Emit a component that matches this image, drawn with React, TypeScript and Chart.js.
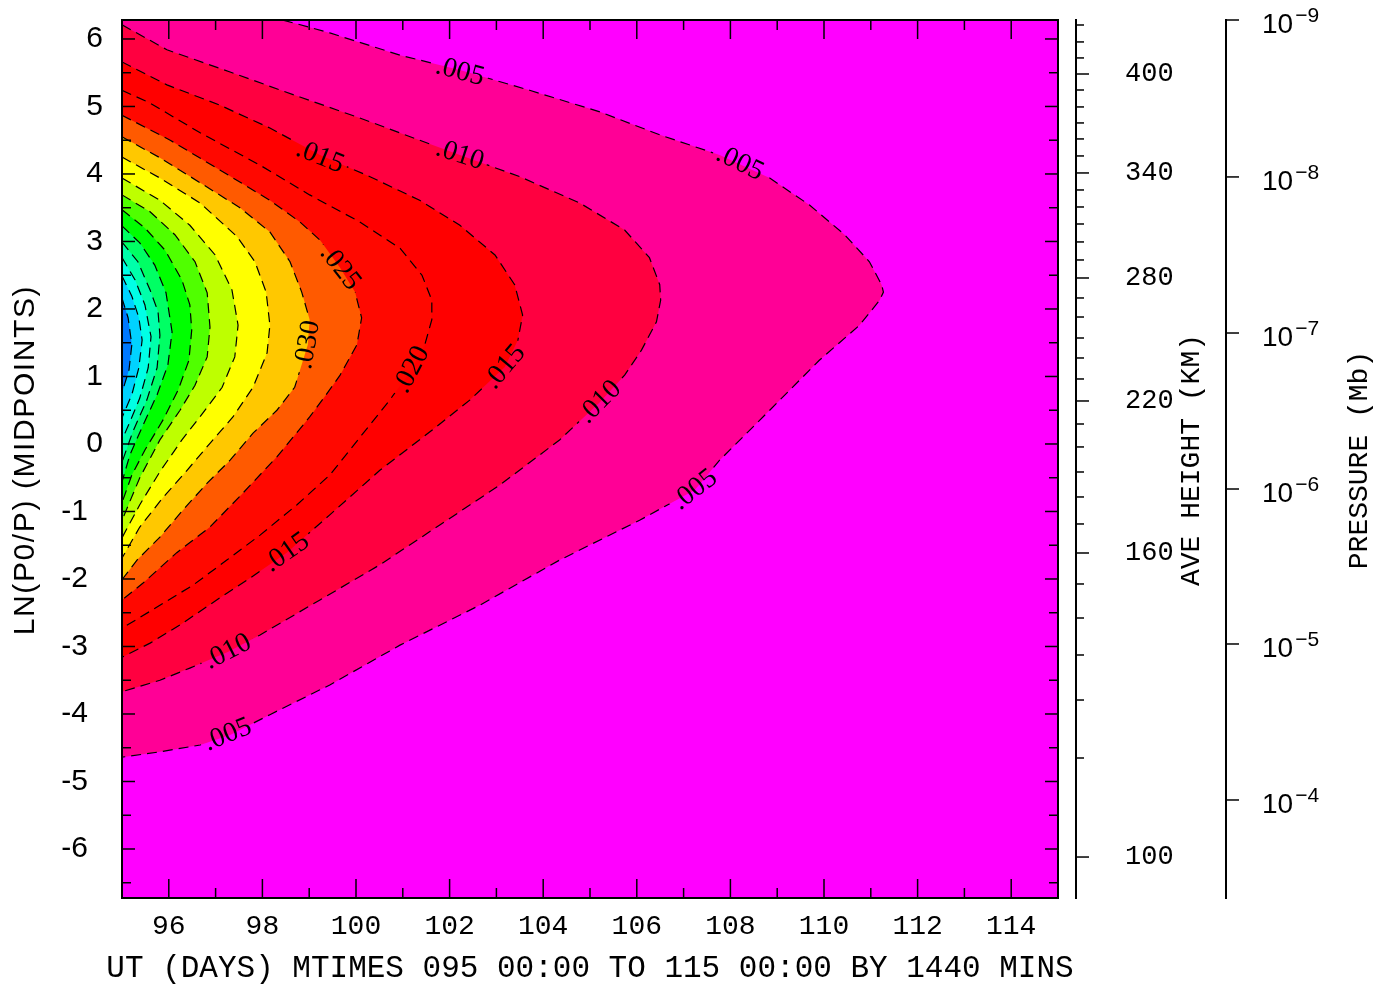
import React, { useEffect, useRef } from 'react';
import { Chart, registerables } from 'chart.js';

Chart.register(...registerables);

// ---------- axes ----------
const X_MIN = 95;
const X_MAX = 115;
const Y_MIN = -6.726;
const Y_MAX = 6.281;
const X_TICKS_MAJOR = [96, 98, 100, 102, 104, 106, 108, 110, 112, 114];
const X_TICKS_MINOR = [97, 99, 101, 103, 105, 107, 109, 111, 113];
const Y_TICKS_MAJOR = [-6, -5, -4, -3, -2, -1, 0, 1, 2, 3, 4, 5, 6];
const Y_TICKS_MINOR = [-6.5, -5.5, -4.5, -3.5, -2.5, -1.5, -0.5, 0.5, 1.5, 2.5, 3.5, 4.5, 5.5];

// average height (km) vs ln(P0/P)
const HEIGHT_KM = [100, 110, 120, 130, 140, 150, 160, 170, 180, 190, 200, 210, 220, 230, 240, 250, 260, 270, 280, 290, 300, 310, 320, 330, 340, 350, 360, 370, 380, 390, 400, 410, 420, 430];
const HEIGHT_Z = [-6.119, -4.652, -3.793, -3.126, -2.578, -2.074, -1.615, -1.185, -0.785, -0.415, -0.044, 0.296, 0.637, 0.963, 1.274, 1.57, 1.881, 2.163, 2.459, 2.726, 2.993, 3.259, 3.511, 3.763, 4.015, 4.267, 4.519, 4.756, 4.993, 5.244, 5.481, 5.719, 5.956, 6.207];
const HEIGHT_LABELED = [100, 160, 220, 280, 340, 400];

// pressure (Mb) decades vs ln(P0/P)
const PRESSURE_EXP = ['9', '8', '7', '6', '5', '4'];
const PRESSURE_Z = [6.281, 3.956, 1.644, -0.667, -2.963, -5.274];

// ---------- contour levels ----------
const LEVELS = ['.005', '.010', '.015', '.020', '.025', '.030', '.035', '.040', '.045', '.050', '.055', '.060', '.065', '.070', '.075'];
const LEVEL_COLORS = ['#FF0096', '#FF0040', '#FF0000', '#FF0800', '#FF5A00', '#FFC800', '#FFFF00', '#BEFF00', '#50FF00', '#00FF00', '#00FF64', '#00FFAA', '#00FFE6', '#00D2FF', '#0078FF'];
const BACKGROUND_COLOR = '#FF00FF';

// contour lines: [UT day, ln(P0/P)]
const C005 = [[98.44, 6.28], [99.44, 6.09], [100.94, 5.76], [102.22, 5.54], [103.71, 5.24], [105.21, 4.92], [106.49, 4.58], [107.77, 4.28], [108.84, 3.94], [109.69, 3.54], [110.44, 3.1], [110.97, 2.7], [111.23, 2.36], [111.27, 2.25], [111.19, 2.13], [110.76, 1.76], [109.9, 1.24], [108.84, 0.5], [107.77, -0.24], [107.24, -0.68], [106.06, -1.13], [104.35, -1.72], [102.64, -2.39], [100.94, -2.98], [99.44, -3.57], [98.16, -4.01], [97.31, -4.31], [96.67, -4.46], [95.81, -4.56], [95.0, -4.64]];
const C010 = [[95.0, 6.21], [95.96, 5.84], [97.31, 5.51], [98.8, 5.14], [100.08, 4.83], [101.36, 4.5], [102.22, 4.28], [103.5, 3.96], [104.78, 3.57], [105.74, 3.17], [106.27, 2.76], [106.49, 2.36], [106.51, 2.13], [106.42, 1.81], [106.1, 1.39], [105.74, 1.02], [105.21, 0.62], [104.35, 0.06], [103.07, -0.61], [101.79, -1.2], [100.51, -1.79], [99.23, -2.31], [97.95, -2.83], [97.26, -3.08], [96.45, -3.32], [95.81, -3.5], [95.0, -3.67]];
const C015 = [[95.0, 5.66], [95.96, 5.32], [97.09, 5.02], [98.16, 4.68], [99.23, 4.28], [100.3, 3.96], [101.36, 3.61], [102.22, 3.24], [102.97, 2.8], [103.39, 2.36], [103.56, 1.91], [103.46, 1.54], [103.18, 1.14], [102.43, 0.65], [101.58, 0.18], [100.51, -0.39], [99.44, -1.05], [98.52, -1.61], [97.73, -1.99], [97.09, -2.28], [96.24, -2.68], [95.6, -2.95], [95.0, -3.16]];
const C020 = [[95.0, 5.24], [95.6, 5.05], [96.67, 4.61], [97.95, 4.13], [99.01, 3.69], [100.08, 3.29], [100.94, 2.9], [101.41, 2.5], [101.62, 2.13], [101.62, 1.84], [101.47, 1.47], [101.19, 1.1], [100.72, 0.65], [100.12, 0.13], [99.44, -0.46], [98.74, -0.9], [97.95, -1.35], [97.24, -1.72], [96.52, -2.09], [95.81, -2.39], [95.0, -2.73]];
const C025 = [[95.0, 4.87], [96.03, 4.5], [97.09, 4.06], [98.16, 3.61], [98.8, 3.29], [99.23, 3.02], [99.66, 2.61], [99.98, 2.25], [100.12, 1.87], [100.02, 1.47], [99.66, 1.02], [99.33, 0.7], [99.01, 0.4], [98.31, -0.19], [97.58, -0.73], [96.88, -1.23], [96.17, -1.61], [95.45, -2.06], [95.0, -2.31]];
const C030 = [[95.0, 4.55], [95.81, 4.24], [96.67, 3.87], [97.52, 3.5], [98.16, 3.14], [98.59, 2.7], [98.84, 2.25], [99.01, 1.84], [98.97, 1.47], [98.69, 0.84], [98.31, 0.5], [97.8, 0.16], [97.31, -0.24], [96.82, -0.58], [96.3, -0.98], [95.81, -1.38], [95.32, -1.72], [95.0, -2.01]];
const C035 = [[95.0, 4.25], [95.81, 3.94], [96.67, 3.57], [97.46, 3.07], [97.84, 2.7], [98.08, 2.25], [98.16, 1.76], [98.1, 1.35], [97.8, 0.84], [97.37, 0.4], [96.88, 0.01], [96.39, -0.39], [95.88, -0.79], [95.38, -1.23], [95.0, -1.69]];
const C040 = [[95.0, 3.94], [95.81, 3.61], [96.45, 3.24], [96.99, 2.8], [97.35, 2.28], [97.48, 1.76], [97.41, 1.29], [97.14, 0.84], [96.73, 0.46], [96.28, 0.06], [95.81, -0.41], [95.38, -0.9], [95.0, -1.39]];
const C045 = [[95.0, 3.69], [95.6, 3.44], [96.13, 3.1], [96.56, 2.7], [96.82, 2.24], [96.88, 1.73], [96.82, 1.29], [96.56, 0.87], [96.24, 0.5], [95.81, 0.06], [95.38, -0.5], [95.0, -1.13]];
const C050 = [[95.0, 3.47], [95.49, 3.2], [95.92, 2.87], [96.28, 2.43], [96.45, 2.06], [96.49, 1.69], [96.43, 1.24], [96.2, 0.8], [95.88, 0.36], [95.49, -0.09], [95.21, -0.46], [95.0, -0.87]];
const C055 = [[95.0, 3.23], [95.38, 2.98], [95.7, 2.65], [95.94, 2.24], [96.07, 1.66], [95.98, 1.17], [95.75, 0.73], [95.45, 0.28], [95.17, -0.16], [95.0, -0.56]];
const C060 = [[95.0, 2.99], [95.34, 2.7], [95.6, 2.28], [95.77, 1.96], [95.81, 1.61], [95.75, 1.13], [95.53, 0.65], [95.23, 0.18], [95.0, -0.27]];
const C065 = [[95.0, 2.76], [95.28, 2.43], [95.49, 2.06], [95.62, 1.59], [95.56, 1.13], [95.38, 0.68], [95.17, 0.33], [95.0, 0.06]];
const C070 = [[95.0, 2.49], [95.21, 2.19], [95.36, 1.87], [95.43, 1.54], [95.36, 1.13], [95.21, 0.73], [95.0, 0.39]];
const C075 = [[95.0, 2.16], [95.13, 1.87], [95.21, 1.47], [95.15, 1.1], [95.0, 0.76]];
const CONTOURS = [C005, C010, C015, C020, C025, C030, C035, C040, C045, C050, C055, C060, C065, C070, C075];

// inline contour labels
const LABEL_TEXT = ['.005', '.005', '.005', '.005', '.010', '.010', '.010', '.015', '.015', '.015', '.020', '.025', '.030'];
const LABEL_X = [102.22, 108.2, 107.24, 97.26, 102.22, 105.21, 97.26, 99.23, 103.18, 98.52, 101.19, 99.66, 98.97];
const LABEL_Z = [5.51, 4.16, -0.68, -4.31, 4.28, 0.62, -3.08, 4.25, 1.14, -1.61, 1.1, 2.61, 1.47];
const LABEL_ANGLE = [15, 26, -38, -22, 18, -45, -27, 22, -50, -35, -62, 52, -80];

const X_TITLE = 'UT (DAYS) MTIMES 095 00:00 TO 115 00:00 BY 1440 MINS';
const Y_TITLE = 'LN(P0/P) (MIDPOINTS)';
const H_TITLE = 'AVE HEIGHT (KM)';
const P_TITLE = 'PRESSURE (Mb)';

const SANS = '"Liberation Sans", Arial, sans-serif';
const MONO = '"Liberation Mono", "DejaVu Sans Mono", monospace';
const SERIF = '"Liberation Serif", "DejaVu Serif", serif';
const LABEL_FONT = `28px ${SERIF}`;

const noPad = (s: any) => {
  s.paddingTop = 0;
  s.paddingBottom = 0;
  s.paddingLeft = 0;
  s.paddingRight = 0;
};

const decorPlugin = {
  id: 'contourDecor',
  beforeDatasetsDraw(chart: any) {
    const { ctx, chartArea: a } = chart;
    ctx.save();
    ctx.fillStyle = BACKGROUND_COLOR;
    ctx.fillRect(a.left, a.top, a.right - a.left, a.bottom - a.top);
    ctx.restore();
  },
  beforeDatasetDraw(chart: any, args: any) {
    const ds = chart.data.datasets[args.index];
    if (!ds.contourLine) return;
    const { ctx } = chart;
    const xs = chart.scales.x;
    const ys = chart.scales.y;
    ctx.save();
    ctx.font = LABEL_FONT;
    ctx.beginPath();
    ctx.rect(0, 0, chart.width, chart.height);
    LABEL_TEXT.forEach((t, i) => {
      const cx = xs.getPixelForValue(LABEL_X[i]);
      const cy = ys.getPixelForValue(LABEL_Z[i]);
      const w = ctx.measureText(t).width / 2 + 4;
      const h = 11;
      const an = (LABEL_ANGLE[i] * Math.PI) / 180;
      const c = Math.cos(an);
      const s = Math.sin(an);
      const pts = [[-w, -h], [w, -h], [w, h], [-w, h]].map(([u, v]) => [cx + u * c - v * s, cy + u * s + v * c]);
      ctx.moveTo(pts[0][0], pts[0][1]);
      for (let k = 1; k < 4; k++) ctx.lineTo(pts[k][0], pts[k][1]);
      ctx.closePath();
    });
    ctx.clip('evenodd');
  },
  afterDatasetDraw(chart: any, args: any) {
    const ds = chart.data.datasets[args.index];
    if (!ds.contourLine) return;
    chart.ctx.restore();
  },
  afterDatasetsDraw(chart: any) {
    const { ctx, chartArea: a, scales } = chart;
    const xs = scales.x;
    const ys = scales.y;
    ctx.save();
    // contour labels
    ctx.font = LABEL_FONT;
    ctx.fillStyle = '#000';
    ctx.textAlign = 'center';
    ctx.textBaseline = 'middle';
    LABEL_TEXT.forEach((t, i) => {
      ctx.save();
      ctx.translate(xs.getPixelForValue(LABEL_X[i]), ys.getPixelForValue(LABEL_Z[i]));
      ctx.rotate((LABEL_ANGLE[i] * Math.PI) / 180);
      ctx.fillText(t, 0, 0);
      ctx.restore();
    });
    // tick marks inside frame
    ctx.strokeStyle = '#000';
    ctx.lineWidth = 1.5;
    const seg = (x1: number, y1: number, x2: number, y2: number) => {
      ctx.beginPath();
      ctx.moveTo(x1, y1);
      ctx.lineTo(x2, y2);
      ctx.stroke();
    };
    X_TICKS_MAJOR.forEach((v) => {
      const px = xs.getPixelForValue(v);
      seg(px, a.bottom, px, a.bottom - 19);
      seg(px, a.top, px, a.top + 19);
    });
    X_TICKS_MINOR.forEach((v) => {
      const px = xs.getPixelForValue(v);
      seg(px, a.bottom, px, a.bottom - 10);
      seg(px, a.top, px, a.top + 10);
    });
    Y_TICKS_MAJOR.forEach((v) => {
      const py = ys.getPixelForValue(v);
      seg(a.left, py, a.left + 13, py);
      seg(a.right, py, a.right - 13, py);
    });
    Y_TICKS_MINOR.forEach((v) => {
      const py = ys.getPixelForValue(v);
      seg(a.left, py, a.left + 9, py);
      seg(a.right, py, a.right - 9, py);
    });
    ctx.lineWidth = 2;
    ctx.strokeRect(a.left, a.top, a.right - a.left, a.bottom - a.top);
    // height axis ticks
    const hs = scales.yH;
    ctx.lineWidth = 1.5;
    HEIGHT_Z.forEach((z, i) => {
      const py = hs.getPixelForValue(z);
      const len = HEIGHT_LABELED.includes(HEIGHT_KM[i]) ? 12 : 7;
      seg(hs.left + 1, py, hs.left + 1 + len, py);
    });
    // pressure axis ticks and labels
    const ps = scales.yP;
    ctx.fillStyle = '#000';
    ctx.textAlign = 'left';
    ctx.textBaseline = 'alphabetic';
    PRESSURE_Z.forEach((z, i) => {
      const py = ps.getPixelForValue(z);
      seg(ps.left + 1, py, ps.left + 13, py);
      const lx = ps.left + 36;
      ctx.font = `28px ${SANS}`;
      ctx.fillText('10', lx, py + 13);
      const w = ctx.measureText('10').width;
      ctx.font = `21px ${SANS}`;
      ctx.fillText('\u2212' + PRESSURE_EXP[i], lx + w + 2, py + 2);
    });
    ctx.restore();
  },
  afterDraw(chart: any) {
    const { ctx } = chart;
    ctx.save();
    ctx.fillStyle = '#000';
    ctx.textBaseline = 'alphabetic';
    // x title
    ctx.font = `31px ${MONO}`;
    ctx.textAlign = 'center';
    ctx.fillText(X_TITLE, 590, 977);
    // left title
    ctx.save();
    ctx.font = `30px ${SANS}`;
    try { (ctx as any).letterSpacing = '1.6px'; } catch (e) { /* ignore */ }
    ctx.translate(34, 460);
    ctx.rotate(-Math.PI / 2);
    ctx.fillText(Y_TITLE, 0, 0);
    ctx.restore();
    // height title
    ctx.save();
    ctx.font = `28px ${MONO}`;
    ctx.translate(1199, 460);
    ctx.rotate(-Math.PI / 2);
    ctx.fillText(H_TITLE, 0, 0);
    ctx.restore();
    // pressure title
    ctx.save();
    ctx.font = `28px ${MONO}`;
    ctx.translate(1367, 460);
    ctx.rotate(-Math.PI / 2);
    ctx.fillText(P_TITLE, 0, 0);
    ctx.restore();
    ctx.restore();
  },
};

export default function App() {
  const ref = useRef<HTMLCanvasElement | null>(null);

  useEffect(() => {
    if (!ref.current) return;
    const fills = CONTOURS.map((c, i) => {
      const poly = c[0][0] > X_MIN ? [[X_MIN, c[0][1]], ...c] : c;
      return {
        type: 'line',
        data: poly.map(([x, y]) => ({ x, y })),
        fill: 'shape',
        backgroundColor: LEVEL_COLORS[i],
        borderColor: 'rgba(0,0,0,0)',
        borderWidth: 0,
        pointRadius: 0,
        tension: 0,
        order: 100 - i,
      };
    });
    const lines = CONTOURS.map((c, i) => ({
      type: 'line',
      label: LEVELS[i],
      data: c.map(([x, y]) => ({ x, y })),
      fill: false,
      borderColor: '#000',
      borderWidth: 1.2,
      borderDash: [10, 6],
      pointRadius: 0,
      tension: 0,
      order: 0,
      contourLine: true,
    }));

    const sameRange = { type: 'linear', min: Y_MIN, max: Y_MAX };

    const chart = new Chart(ref.current, {
      type: 'line',
      data: { datasets: [...fills, ...lines] as any },
      options: {
        animation: false,
        responsive: false,
        maintainAspectRatio: false,
        events: [],
        layout: { padding: { top: 20, left: 0, right: 0, bottom: 0 } },
        plugins: { legend: { display: false }, tooltip: { enabled: false }, title: { display: false } },
        scales: {
          x: {
            type: 'linear',
            position: 'bottom',
            min: X_MIN,
            max: X_MAX,
            afterBuildTicks: (s: any) => { s.ticks = X_TICKS_MAJOR.map((v) => ({ value: v })); },
            afterFit: (s: any) => { s.height = 88; noPad(s); },
            grid: { display: false, drawTicks: false },
            border: { display: false },
            ticks: { font: { family: MONO, size: 28 }, color: '#000', padding: 12, maxRotation: 0, autoSkip: false },
          },
          y: {
            ...sameRange,
            position: 'left',
            afterBuildTicks: (s: any) => { s.ticks = Y_TICKS_MAJOR.map((v) => ({ value: v })); },
            afterFit: (s: any) => { s.width = 122; noPad(s); },
            grid: { display: false, drawTicks: false },
            border: { display: false },
            ticks: {
              font: { family: SANS, size: 30 },
              color: '#000',
              padding: 19,
              autoSkip: false,
              callback: (v: any) => (Number(v) < 0 ? `${v}\u2002` : `${v}`),
            },
          },
          gap: {
            ...sameRange,
            position: 'right',
            weight: 0,
            afterFit: (s: any) => { s.width = 18; noPad(s); },
            grid: { display: false, drawTicks: false },
            border: { display: false },
            ticks: { display: false },
          },
          yH: {
            ...sameRange,
            position: 'right',
            weight: 1,
            afterBuildTicks: (s: any) => { s.ticks = HEIGHT_Z.map((v) => ({ value: v })); },
            afterFit: (s: any) => { s.width = 150; noPad(s); },
            grid: { display: false, drawTicks: false },
            border: { display: true, color: '#000', width: 2 },
            ticks: {
              font: { family: MONO, size: 27 },
              color: '#000',
              padding: 49,
              autoSkip: false,
              callback: (_v: any, i: number) => (HEIGHT_LABELED.includes(HEIGHT_KM[i]) ? String(HEIGHT_KM[i]) : ''),
            },
          },
          yP: {
            ...sameRange,
            position: 'right',
            weight: 2,
            afterBuildTicks: (s: any) => { s.ticks = PRESSURE_Z.map((v) => ({ value: v })); },
            afterFit: (s: any) => { s.width = 161; noPad(s); },
            grid: { display: false, drawTicks: false },
            border: { display: true, color: '#000', width: 2 },
            ticks: { display: false },
          },
        } as any,
      },
      plugins: [decorPlugin as any],
    } as any);

    return () => chart.destroy();
  }, []);

  return (
    <div style={{ position: 'fixed', left: 0, top: 0, width: 1387, height: 986, background: '#fff' }}>
      <canvas ref={ref} width={1387} height={986} style={{ display: 'block' }} />
    </div>
  );
}
